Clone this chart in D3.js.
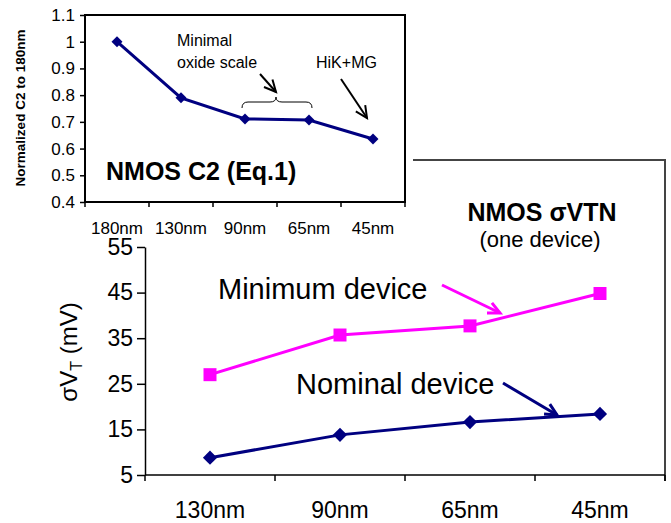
<!DOCTYPE html>
<html>
<head>
<meta charset="utf-8">
<script src="https://cdn.jsdelivr.net/npm/d3@7"></script>
<style>
  body { margin: 0; background: #fff; }
  svg { display: block; }
  text { font-family: "Liberation Sans", Arial, sans-serif; fill: #000; }
</style>
</head>
<body>
<svg id="chart" width="671" height="523"></svg>
<script>
// top chart: normalized C2
const c2Cats = ['180nm', '130nm', '90nm', '65nm', '45nm'];
const c2Values = [1.0, 0.79, 0.711, 0.707, 0.636];
const c2Ticks = [0.4, 0.5, 0.6, 0.7, 0.8, 0.9, 1.0, 1.1];

// bottom chart: sigma VT
const vtCats = ['130nm', '90nm', '65nm', '45nm'];
const minDevice = [27, 35.7, 37.7, 44.8];
const nomDevice = [8.8, 13.8, 16.6, 18.4];
const vtTicks = [5, 15, 25, 35, 45, 55];

const navy = '#000080';
const magenta = '#ff00ff';

const svg = d3.select('#chart');

// arrow with open head, Excel style
function arrow(g, x1, y1, x2, y2, color, w) {
  const a = Math.atan2(y2 - y1, x2 - x1);
  const len = 13, spread = 0.45;
  g.append('line').attr('x1', x1).attr('y1', y1).attr('x2', x2).attr('y2', y2)
    .attr('stroke', color).attr('stroke-width', w);
  g.append('path')
    .attr('d', `M${x2 - len * Math.cos(a - spread)},${y2 - len * Math.sin(a - spread)}L${x2},${y2}L${x2 - len * Math.cos(a + spread)},${y2 - len * Math.sin(a + spread)}`)
    .attr('fill', 'none').attr('stroke', color).attr('stroke-width', w).attr('stroke-linejoin', 'miter');
}

//////// BOTTOM CHART ////////
const bot = svg.append('g');
const xBot = d3.scaleBand().domain(vtCats).range([145, 665]);
const yBot = d3.scaleLinear().domain([5, 55]).range([475, 247]);
const bwBot = xBot.bandwidth();

// chart area border (left part hidden behind the top chart)
bot.append('path').attr('d', 'M413,160H665V481')
  .attr('fill', 'none').attr('stroke', '#444').attr('stroke-width', 2);

const yAxisBot = bot.append('g').attr('transform', 'translate(145,0)')
  .call(d3.axisLeft(yBot).tickValues(vtTicks).tickSize(8).tickSizeOuter(0).tickPadding(4));
yAxisBot.selectAll('path, line').attr('stroke', '#000').attr('stroke-width', 1.5);
yAxisBot.selectAll('text').attr('font-size', 23).attr('font-family', '"Liberation Sans", Arial, sans-serif');

bot.append('line').attr('x1', 145).attr('x2', 665).attr('y1', yBot(5)).attr('y2', yBot(5))
  .attr('stroke', '#000').attr('stroke-width', 1.5);
bot.selectAll('.xtick').data(vtCats.map(c => xBot(c)).concat([xBot.range()[1]]))
  .join('line').attr('x1', d => d).attr('x2', d => d)
  .attr('y1', yBot(5)).attr('y2', yBot(5) + 6)
  .attr('stroke', '#000').attr('stroke-width', 1.5);
bot.selectAll('.xlab').data(vtCats).join('text')
  .attr('x', d => xBot(d) + bwBot / 2).attr('y', 518)
  .attr('text-anchor', 'middle').attr('font-size', 23).text(d => d);

const lineBot = d3.line().x((d, i) => xBot(vtCats[i]) + bwBot / 2).y(d => yBot(d));
bot.append('path').datum(minDevice).attr('d', lineBot)
  .attr('fill', 'none').attr('stroke', magenta).attr('stroke-width', 3);
bot.append('path').datum(nomDevice).attr('d', lineBot)
  .attr('fill', 'none').attr('stroke', navy).attr('stroke-width', 3);

bot.selectAll('.sq').data(minDevice).join('path')
  .attr('d', d3.symbol(d3.symbolSquare, 169))
  .attr('transform', (d, i) => `translate(${xBot(vtCats[i]) + bwBot / 2},${yBot(d)})`)
  .attr('fill', magenta);
bot.selectAll('.dm').data(nomDevice).join('path')
  .attr('d', d3.symbol(d3.symbolSquare, 100))
  .attr('transform', (d, i) => `translate(${xBot(vtCats[i]) + bwBot / 2},${yBot(d)}) rotate(45)`)
  .attr('fill', navy);

// y label
const yl = bot.append('text').attr('transform', 'translate(77,352) rotate(-90)')
  .attr('text-anchor', 'middle').attr('font-size', 24);
yl.append('tspan').text('σV');
yl.append('tspan').attr('font-size', 16).attr('dy', 5).text('T');
yl.append('tspan').attr('dy', -5).text(' (mV)');

bot.append('text').attr('x', 542).attr('y', 221).attr('text-anchor', 'middle')
  .attr('font-size', 25).attr('font-weight', 'bold').text('NMOS σVTN');
bot.append('text').attr('x', 540).attr('y', 247).attr('text-anchor', 'middle')
  .attr('font-size', 22).text('(one device)');

bot.append('text').attr('x', 218).attr('y', 299).attr('font-size', 29).text('Minimum device');
bot.append('text').attr('x', 296).attr('y', 394).attr('font-size', 29).text('Nominal device');
arrow(bot, 442, 285, 500, 313, magenta, 3);
arrow(bot, 503, 383, 557, 415, navy, 3);

//////// TOP CHART ////////
const topG = svg.append('g');
const xTop = d3.scaleBand().domain(c2Cats).range([85, 405]);
const yTop = d3.scaleLinear().domain([0.4, 1.1]).range([202, 15]);
const bwTop = xTop.bandwidth();

topG.append('rect').attr('x', 85).attr('y', yTop(1.1)).attr('width', 320).attr('height', yTop(0.4) - yTop(1.1))
  .attr('fill', '#fff').attr('stroke', '#000').attr('stroke-width', 2);

const yAxisTop = topG.append('g').attr('transform', 'translate(85,0)')
  .call(d3.axisLeft(yTop).tickValues(c2Ticks).tickSize(5).tickSizeOuter(0).tickPadding(5).tickFormat(d3.format('~g')));
yAxisTop.select('.domain').remove();
yAxisTop.selectAll('line').attr('stroke', '#000').attr('stroke-width', 1.5);
yAxisTop.selectAll('text').attr('font-size', 17).attr('font-family', '"Liberation Sans", Arial, sans-serif');

topG.selectAll('.xtick').data(c2Cats.map(c => xTop(c)).concat([xTop.range()[1]]))
  .join('line').attr('x1', d => d).attr('x2', d => d)
  .attr('y1', yTop(0.4)).attr('y2', yTop(0.4) + 5)
  .attr('stroke', '#000').attr('stroke-width', 1.5);
topG.selectAll('.xlab').data(c2Cats).join('text')
  .attr('x', d => xTop(d) + bwTop / 2).attr('y', 234)
  .attr('text-anchor', 'middle').attr('font-size', 17).text(d => d);

topG.append('text').attr('transform', 'translate(25,108) rotate(-90)')
  .attr('text-anchor', 'middle').attr('font-size', 13.5).attr('font-weight', 'bold')
  .text('Normalized C2 to 180nm');

const lineTop = d3.line().x((d, i) => xTop(c2Cats[i]) + bwTop / 2).y(d => yTop(d));
topG.append('path').datum(c2Values).attr('d', lineTop)
  .attr('fill', 'none').attr('stroke', navy).attr('stroke-width', 3);
topG.selectAll('.dm').data(c2Values).join('path')
  .attr('d', d3.symbol(d3.symbolSquare, 60))
  .attr('transform', (d, i) => `translate(${xTop(c2Cats[i]) + bwTop / 2},${yTop(d)}) rotate(45)`)
  .attr('fill', navy);

topG.append('text').attr('x', 106).attr('y', 180).attr('font-size', 25).attr('font-weight', 'bold')
  .text('NMOS C2 (Eq.1)');

topG.append('text').attr('x', 177).attr('y', 46).attr('font-size', 16).text('Minimal');
topG.append('text').attr('x', 177).attr('y', 68).attr('font-size', 16).text('oxide scale');
topG.append('text').attr('x', 316).attr('y', 68).attr('font-size', 16).text('HiK+MG');

// brace over 90nm..65nm
topG.append('path')
  .attr('d', 'M242,108 Q242,102 248,102 L270,102 Q276,102 276,97 Q276,102 282,102 L306,102 Q312,102 312,108')
  .attr('fill', 'none').attr('stroke', '#000').attr('stroke-width', 1);
arrow(topG, 260, 74, 276, 92, '#000', 2);
arrow(topG, 341, 79, 367, 118, '#000', 2);
</script>
</body>
</html>
